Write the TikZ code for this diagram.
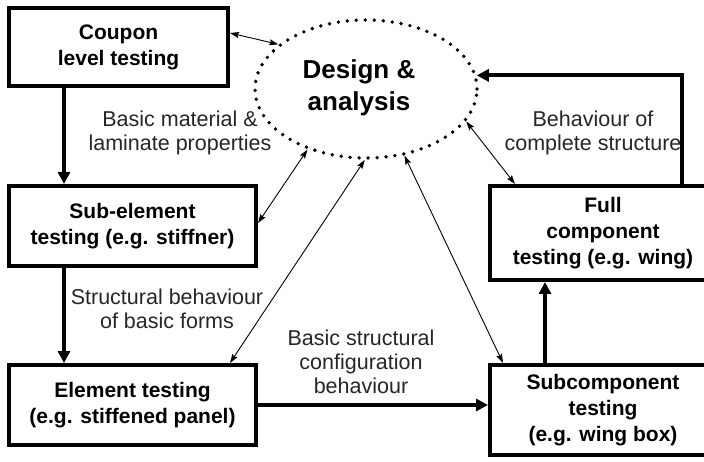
\documentclass[tikz,border=0pt]{standalone}
\usepackage{fontspec}
\setmainfont{Liberation Sans}
\usetikzlibrary{shapes.geometric,arrows.meta}
\begin{document}
\begin{tikzpicture}[x=1pt,y=-1pt,
  testbox/.style={draw, line width=4pt, rectangle, inner sep=0pt, align=center,
    font=\bfseries\fontsize{21}{26}\selectfont},
  flowlabel/.style={align=center, inner sep=0pt, font=\fontsize{21.5}{24}\selectfont, text=black!85},
  mainflow/.style={line width=4pt, -{Triangle[length=12pt,width=12pt]}},
  feedback/.style={line width=0.9pt, {Stealth[length=9pt,width=6pt,inset=1.5pt]}-{Stealth[length=9pt,width=6pt,inset=1.5pt]}}
]
\useasboundingbox (0,0) rectangle (704,462);
\clip (0,0) rectangle (704,462);

% central design and analysis hub
\node[ellipse, draw, line width=3.8pt, dash pattern=on 0pt off 9pt, line cap=round,
      minimum width=222pt, minimum height=138pt, inner sep=0pt] (da) at (366,89) {};
\node[align=center, inner sep=0pt, font=\bfseries\fontsize{26}{32}\selectfont] (datext) at (359,88) {Design \&\\analysis};

% test levels
\node[testbox, minimum width=219pt, minimum height=78pt] (coupon) at (118.5,47) {\raisebox{3pt}{\begin{tabular}{@{}c@{}}Coupon\\level testing\end{tabular}}};
\node[testbox, minimum width=247pt, minimum height=80pt] (sub) at (132.5,226) {\raisebox{4pt}{\begin{tabular}{@{}c@{}}Sub-element\\testing (e.g. stiffner)\end{tabular}}};
\node[testbox, minimum width=247pt, minimum height=80pt] (elem) at (132.5,405) {\raisebox{4pt}{\begin{tabular}{@{}c@{}}Element testing\\(e.g. stiffened panel)\end{tabular}}};
\node[testbox, minimum width=226pt, minimum height=94pt] (full) at (603,233) {Full\\component\\testing (e.g. wing)};
\node[testbox, minimum width=226pt, minimum height=90pt] (subc) at (603,410) {Subcomponent\\testing\\(e.g. wing box)};

% flow labels
\node[flowlabel] (l1) at (180,133) {Basic material \&\\laminate properties};
\node[flowlabel] (l2) at (167,309) {Structural behaviour\\of basic forms};
\node[flowlabel] (l3) at (361,362) {Basic structural\\configuration\\behaviour};
\node[flowlabel] (l4) at (593,133) {Behaviour of\\complete structure};

% main test progression
\draw[mainflow] ([xshift=57pt]coupon.south west) -- ([xshift=57pt]sub.north west);
\draw[mainflow] ([xshift=57pt]sub.south west) -- ([xshift=57pt]elem.north west);
\draw[mainflow] (elem.east) -- (elem.east -| subc.west);
\draw[mainflow] ([xshift=57pt]subc.north west) -- ([xshift=57pt]full.south west);
\draw[mainflow] ([xshift=194pt]full.north west) |- (da.7);

% exchanges with design and analysis
\draw[feedback] ([yshift=-27pt]coupon.north east) -- (da.153);
\draw[feedback] ([yshift=3pt]sub.east) -- (da.226);
\draw[feedback] ([xshift=-28pt]elem.north east) -- (da.269);
\draw[feedback] ([xshift=15pt]subc.north west) -- (da.300);
\draw[feedback] ([xshift=27pt]full.north west) -- (da.342);
\end{tikzpicture}
\end{document}
